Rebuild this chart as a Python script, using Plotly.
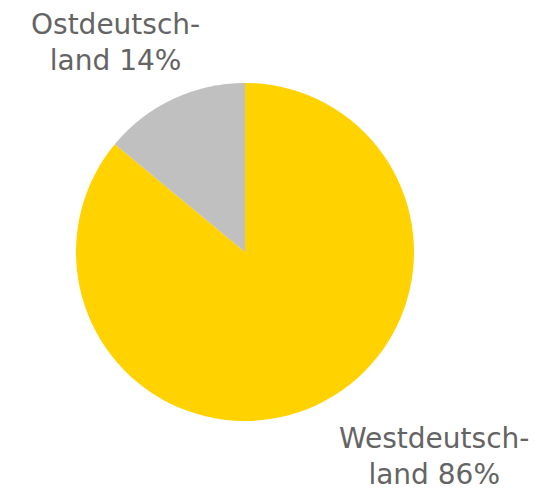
import plotly.graph_objects as go

categories = ["Westdeutsch-<br>land", "Ostdeutsch-<br>land"]
values = [86, 14]
colors = ["#FFD200", "#C0C0C0"]

W, H, OFF = 548, 482, 8  # page body adds an 8px margin

fig = go.Figure(go.Pie(
    labels=categories,
    values=values,
    sort=False,
    direction="clockwise",
    rotation=0,
    marker=dict(colors=colors, line=dict(width=0)),
    textinfo="none",
    hoverinfo="label+percent",
    domain=dict(x=[(76-OFF)/W, (414-OFF)/W], y=[1-(421-OFF)/H, 1-(83-OFF)/H]),
    showlegend=False,
))

label_pos = [(434, 456), (115, 43)]
for cat, val, (px, py) in zip(categories, values, label_pos):
    fig.add_annotation(
        x=(px-OFF)/W, y=1-(py-OFF)/H, xref="paper", yref="paper",
        text=f"{cat} {val}%", showarrow=False,
        font=dict(family="DejaVu Sans", size=28, color="#646464"),
        align="center", xanchor="center", yanchor="middle",
    )

fig.update_layout(
    width=W, height=H,
    margin=dict(l=0, r=0, t=0, b=0),
    paper_bgcolor="white", plot_bgcolor="white",
)
fig.write_html("out.html")
